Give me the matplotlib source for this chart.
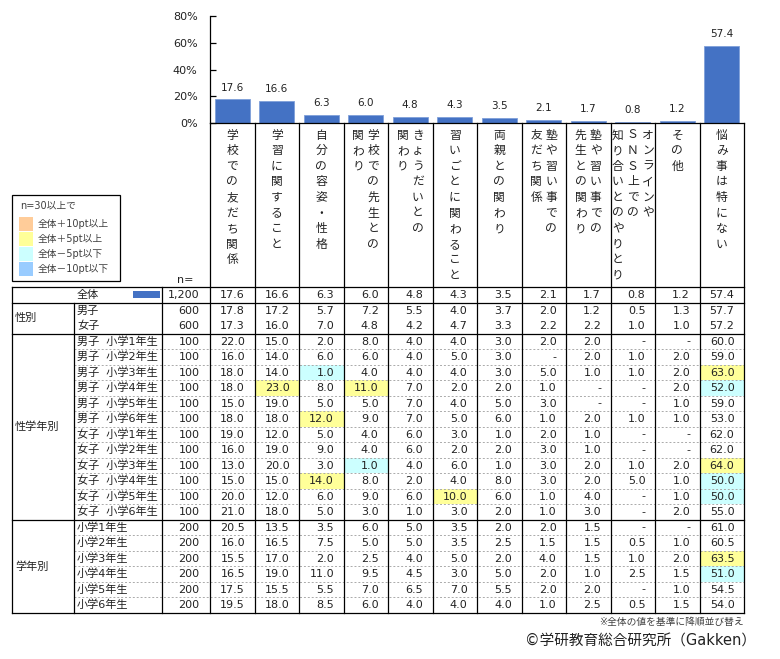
import matplotlib
matplotlib.use("Agg")
import matplotlib.pyplot as plt
import numpy as np
from matplotlib.patches import Rectangle

plt.rcParams['font.family'] = ['DejaVu Sans', 'Noto Sans CJK JP']

# Données (悩み事の種類, 全体の値で降順)
categories = [
    "学校での友だち関係", "学習に関すること", "自分の容姿・性格",
    "学校での先生との関わり", "きょうだいとの関わり", "習いごとに関わること",
    "両親との関わり", "塾や習い事での友だち関係", "塾や習い事での先生との関わり",
    "オンラインやＳＮＳ上での知り合いとのやりとり", "その他", "悩み事は特にない",
]
# 縦書きの改行位置 (右の列から)
header_lines = [
    ["学校での友だち関係"], ["学習に関すること"], ["自分の容姿・性格"],
    ["学校での先生との", "関わり"], ["きょうだいとの", "関わり"],
    ["習いごとに関わること"], ["両親との関わり"],
    ["塾や習い事での", "友だち関係"], ["塾や習い事での", "先生との関わり"],
    ["オンラインや", "ＳＮＳ上での", "知り合いとのやりとり"],
    ["その他"], ["悩み事は特にない"],
]

total_label = "全体"
total_n = 1200
total_vals = [17.6, 16.6, 6.3, 6.0, 4.8, 4.3, 3.5, 2.1, 1.7, 0.8, 1.2, 57.4]

gender_labels = ["男子", "女子"]
gender_n = [600, 600]
gender_vals = [
    [17.8, 17.2, 5.7, 7.2, 5.5, 4.0, 3.7, 2.0, 1.2, 0.5, 1.3, 57.7],
    [17.3, 16.0, 7.0, 4.8, 4.2, 4.7, 3.3, 2.2, 2.2, 1.0, 1.0, 57.2],
]

sexgrade_labels = [
    "男子  小学1年生", "男子  小学2年生", "男子  小学3年生", "男子  小学4年生",
    "男子  小学5年生", "男子  小学6年生", "女子  小学1年生", "女子  小学2年生",
    "女子  小学3年生", "女子  小学4年生", "女子  小学5年生", "女子  小学6年生",
]
sexgrade_n = [100] * 12
sexgrade_vals = [
    [22.0, 15.0, 2.0, 8.0, 4.0, 4.0, 3.0, 2.0, 2.0, None, None, 60.0],
    [16.0, 14.0, 6.0, 6.0, 4.0, 5.0, 3.0, None, 2.0, 1.0, 2.0, 59.0],
    [18.0, 14.0, 1.0, 4.0, 4.0, 4.0, 3.0, 5.0, 1.0, 1.0, 2.0, 63.0],
    [18.0, 23.0, 8.0, 11.0, 7.0, 2.0, 2.0, 1.0, None, None, 2.0, 52.0],
    [15.0, 19.0, 5.0, 5.0, 7.0, 4.0, 5.0, 3.0, None, None, 1.0, 59.0],
    [18.0, 18.0, 12.0, 9.0, 7.0, 5.0, 6.0, 1.0, 2.0, 1.0, 1.0, 53.0],
    [19.0, 12.0, 5.0, 4.0, 6.0, 3.0, 1.0, 2.0, 1.0, None, None, 62.0],
    [16.0, 19.0, 9.0, 4.0, 6.0, 2.0, 2.0, 3.0, 1.0, None, None, 62.0],
    [13.0, 20.0, 3.0, 1.0, 4.0, 6.0, 1.0, 3.0, 2.0, 1.0, 2.0, 64.0],
    [15.0, 15.0, 14.0, 8.0, 2.0, 4.0, 8.0, 3.0, 2.0, 5.0, 1.0, 50.0],
    [20.0, 12.0, 6.0, 9.0, 6.0, 10.0, 6.0, 1.0, 4.0, None, 1.0, 50.0],
    [21.0, 18.0, 5.0, 3.0, 1.0, 3.0, 2.0, 1.0, 3.0, None, 2.0, 55.0],
]

grade_labels = ["小学1年生", "小学2年生", "小学3年生", "小学4年生", "小学5年生", "小学6年生"]
grade_n = [200] * 6
grade_vals = [
    [20.5, 13.5, 3.5, 6.0, 5.0, 3.5, 2.0, 2.0, 1.5, None, None, 61.0],
    [16.0, 16.5, 7.5, 5.0, 5.0, 3.5, 2.5, 1.5, 1.5, 0.5, 1.0, 60.5],
    [15.5, 17.0, 2.0, 2.5, 4.0, 5.0, 2.0, 4.0, 1.5, 1.0, 2.0, 63.5],
    [16.5, 19.0, 11.0, 9.5, 4.5, 3.0, 5.0, 2.0, 1.0, 2.5, 1.5, 51.0],
    [17.5, 15.5, 5.5, 7.0, 6.5, 7.0, 5.5, 2.0, 2.0, None, 1.0, 54.5],
    [19.5, 18.0, 8.5, 6.0, 4.0, 4.0, 4.0, 1.0, 2.5, 0.5, 1.5, 54.0],
]

group_names = ["性別", "性学年別", "学年別"]

BAR_COLOR = "#4472C4"
TXT = "#222222"
C_P10, C_P5, C_M5, C_M10 = "#FFCC99", "#FFFF99", "#CCFFFF", "#99CCFF"

# Mise en page en pixels
W, H = 780, 659
X_LEFT, X_CAT, X_N, X_COL0 = 12, 74, 161.7, 210
COL_W = 44.5
X_RIGHT = X_COL0 + COL_W * 12
Y_TOP_AX, Y_BASE = 16, 123
Y_HEAD = 287.3
ROW_H = 15.5


def couleur_cellule(v, ref, n):
    if v is None or n < 30:
        return None
    d = round(v - ref, 1)
    if d >= 10:
        return C_P10
    if d >= 5:
        return C_P5
    if d <= -10:
        return C_M10
    if d <= -5:
        return C_M5
    return None


fig = plt.figure(figsize=(W / 100, H / 100), dpi=100)

# Graphique en barres
ax = fig.add_axes([X_COL0 / W, 1 - Y_BASE / H, (X_RIGHT - X_COL0) / W, (Y_BASE - Y_TOP_AX) / H])
x = np.arange(len(categories))
ax.bar(x, total_vals, width=0.78, color=BAR_COLOR, edgecolor="#7F9FD9", linewidth=0.6)
for xi, v in zip(x, total_vals):
    ax.annotate(f"{v:.1f}", (xi, v), xytext=(0, 5), textcoords="offset points",
                ha="center", va="bottom", fontsize=7.5, color=TXT)
ax.set_xlim(-0.5, len(categories) - 0.5)
ax.set_ylim(0, 80)
ax.set_yticks([0, 20, 40, 60, 80])
ax.set_yticklabels([f"{t}%" for t in [0, 20, 40, 60, 80]])
ax.tick_params(axis="y", direction="in", length=4, width=0.9, labelsize=8, labelcolor=TXT, pad=9)
ax.set_xticks([])
for s in ["top", "right"]:
    ax.spines[s].set_visible(False)
ax.spines["left"].set_linewidth(0.9)
ax.spines["bottom"].set_linewidth(0.9)
ax.patch.set_alpha(0)

# Tableau (coordonnées en pixels)
tab = fig.add_axes([0, 0, 1, 1], zorder=-1)
tab.set_xlim(0, W)
tab.set_ylim(H, 0)
tab.axis("off")

lw = 0.9
col_edges = [X_COL0 + COL_W * k for k in range(13)]
col_centers = [X_COL0 + COL_W * (k + 0.5) for k in range(12)]

# En-têtes verticaux
offsets = {1: [0], 2: [7.5, -7.5], 3: [15, 0, -15]}
for k, lines in enumerate(header_lines):
    for off, line in zip(offsets[len(lines)], lines):
        for j, ch in enumerate(line):
            tab.text(col_centers[k] + off, 135 + j * 15.6, ch, ha="center", va="center",
                     fontsize=8.5, color=TXT)

tab.text(193, 280, "n=", ha="right", va="center", fontsize=8, color=TXT)

# Lignes du tableau
rows = [(total_label, total_n, total_vals, None)]
for lab, n, vals in zip(gender_labels, gender_n, gender_vals):
    rows.append((lab, n, vals, 0))
for lab, n, vals in zip(sexgrade_labels, sexgrade_n, sexgrade_vals):
    rows.append((lab, n, vals, 1))
for lab, n, vals in zip(grade_labels, grade_n, grade_vals):
    rows.append((lab, n, vals, 2))

y = Y_HEAD
group_start = {}
for i, (lab, n, vals, g) in enumerate(rows):
    ym = y + ROW_H / 2
    for k, v in enumerate(vals):
        c = couleur_cellule(v, total_vals[k], n) if g is not None else None
        if c:
            tab.add_patch(Rectangle((col_edges[k], y), COL_W, ROW_H, color=c, lw=0, zorder=0))
        tab.text(col_edges[k + 1] - 9.5, ym, "-" if v is None else f"{v:.1f}",
                 ha="right", va="center", fontsize=8, color=TXT)
    tab.text(X_N + 38, ym, f"{n:,}", ha="right", va="center", fontsize=8, color=TXT)
    tab.text(X_CAT + 3, ym, lab, ha="left", va="center", fontsize=8, color=TXT)
    if g is None:
        tab.add_patch(Rectangle((133, y + 4), 27, 7, color=BAR_COLOR, lw=0))
    else:
        if g not in group_start:
            group_start[g] = y
        elif g in (1, 2):
            tab.plot([X_CAT, X_RIGHT], [y, y], color="#AAAAAA", lw=0.7, ls=(0, (2, 2)))
    y += ROW_H
y_end = y

# Groupes
bounds = {}
yy = Y_HEAD + ROW_H
for g, cnt in zip(range(3), [len(gender_labels), len(sexgrade_labels), len(grade_labels)]):
    bounds[g] = (yy, yy + cnt * ROW_H)
    tab.text(X_LEFT + 3, yy + cnt * ROW_H / 2, group_names[g], ha="left", va="center",
             fontsize=8, color=TXT)
    yy += cnt * ROW_H

for yl in [Y_HEAD, Y_HEAD + ROW_H] + [bounds[g][1] for g in range(3)]:
    tab.plot([X_LEFT, X_RIGHT], [yl, yl], color="k", lw=lw)
tab.plot([X_LEFT, X_LEFT], [Y_HEAD, y_end], color="k", lw=lw)
tab.plot([X_CAT, X_CAT], [Y_HEAD + ROW_H, y_end], color="k", lw=lw)
tab.plot([X_N, X_N], [Y_HEAD, y_end], color="k", lw=lw)
tab.plot([X_COL0, X_COL0], [Y_BASE, y_end], color="k", lw=lw)
for xe in col_edges[1:]:
    tab.plot([xe, xe], [Y_BASE, y_end], color="k", lw=lw)

# Légende
tab.add_patch(Rectangle((X_LEFT, 194.5), 108, 86, fill=False, ec="k", lw=lw))
tab.text(20, 205.5, "n=30以上で", ha="left", va="center", fontsize=7, color="#404040")
legend_items = [(C_P10, "全体＋10pt以上"), (C_P5, "全体＋5pt以上"),
                (C_M5, "全体－5pt以下"), (C_M10, "全体－10pt以下")]
for j, (c, t) in enumerate(legend_items):
    y0 = 217 + j * 15
    tab.add_patch(Rectangle((19, y0), 14, 14, color=c, lw=0))
    tab.text(38, y0 + 7, t, ha="left", va="center", fontsize=7, color="#404040")

# Notes
tab.text(X_RIGHT, 622, "※全体の値を基準に降順並び替え", ha="right", va="center",
         fontsize=7, color="#404040")
tab.text(756, 641, "©学研教育総合研究所（Gakken）", ha="right", va="center",
         fontsize=10.5, color=TXT)

fig.savefig("out.png", dpi=100)
